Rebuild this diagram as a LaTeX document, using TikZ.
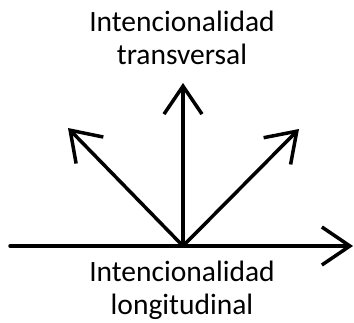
\documentclass[tikz,border=0pt]{standalone}
\usepackage{fontspec}
\setmainfont{Carlito}
\usetikzlibrary{arrows.meta}

\begin{document}
\begin{tikzpicture}[x=1pt,y=1pt,line width=3.5pt,line cap=round,line join=round,
  flecha/.style={-{Straight Barb[length=28pt,width=38pt]}},
  rotulo/.style={align=center,font=\fontsize{29.5}{33}\selectfont}]
\useasboundingbox (0,0) rectangle (354,322);
\coordinate (o) at (183,76);
\coordinate (i) at (10,76);
\coordinate (d) at (353,76);
\coordinate (t) at (183,239);
\coordinate (ti) at (68,194);
\coordinate (td) at (299,193);
\node [rotulo] (trans) at (182,284) {Intencionalidad\\transversal};
\node [rotulo] (long) at (182,32) {Intencionalidad\\longitudinal};
\path [flecha] (i) edge (d);
\path [flecha] (o) edge (t);
\path [flecha] (o) edge (ti);
\path [flecha] (o) edge (td);
\end{tikzpicture}
\end{document}
